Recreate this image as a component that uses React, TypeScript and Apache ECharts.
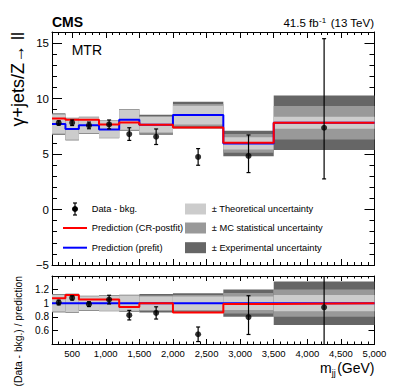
import React, { useEffect, useRef } from "react";
import * as echarts from "echarts";

// ---- data ----
const binEdges = [200, 400, 600, 900, 1200, 1500, 2000, 2750, 3500, 5000];
const dataValues = [7.8, 7.82, 7.58, 7.67, 6.8, 6.56, 4.74, 4.83, 7.37];
const dataLow = [7.6, 7.57, 7.28, 7.27, 6.23, 5.86, 3.99, 3.33, 2.76];
const dataHigh = [8.0, 8.07, 7.88, 8.07, 7.37, 7.26, 5.49, 6.72, 15.4];
const postfitPrediction = [8.21, 8.09, 8.09, 7.67, 7.85, 7.64, 7.4, 6.02, 7.82];
const prefitPrediction = [7.7, 7.25, 7.6, 7.22, 8.09, 7.64, 8.51, 5.96, 7.82];
const theoUnc = [0.85, 0.95, 0.7, 0.75, 0.9, 0.7, 0.85, 0.55, 0.55];
const statUnc = [0.92, 0.98, 0.73, 0.77, 0.95, 0.8, 1.0, 0.85, 1.5];
const expUnc = [0.97, 1.02, 0.76, 0.8, 0.98, 0.9, 1.2, 1.15, 2.45];

const ratioValues = [1.01, 1.077, 0.986, 1.053, 0.824, 0.857, 0.543, 0.796, 0.94];
const ratioLow = [0.975, 1.047, 0.951, 0.989, 0.754, 0.767, 0.436, 0.54, 0.35];
const ratioHigh = [1.045, 1.107, 1.021, 1.117, 0.894, 0.947, 0.65, 1.11, 1.97];
const ratioPostfit = [1.071, 1.12, 1.053, 1.053, 0.943, 1.0, 0.863, 0.99, 1.0];
const ratioPrefit = [1, 1, 1, 1, 1, 1, 1, 1, 1];
const ratioTheoUnc = [0.12, 0.13, 0.1, 0.11, 0.11, 0.1, 0.1, 0.1, 0.12];
const ratioStatUnc = [0.13, 0.135, 0.105, 0.115, 0.12, 0.115, 0.12, 0.15, 0.2];
const ratioExpUnc = [0.135, 0.14, 0.11, 0.12, 0.125, 0.135, 0.145, 0.2, 0.32];

const xTickLabels = [500, 1000, 1500, 2000, 2500, 3000, 3500, 4000, 4500, 5000];
const mainYTickLabels = [-5, 0, 5, 10, 15];
const ratioYTickLabels = [0.6, 0.8, 1, 1.2];

const FONT = "Liberation Sans";
const LIGHT = "#cccccc";
const MEDIUM = "#999999";
const DARK = "#666666";
const RED = "#ff0000";
const BLUE = "#0000ff";

const X_MIN = 200;
const X_MAX = 5000;
const MAIN_Y = [-5, 16];
const RATIO_Y = [0.4, 1.4];

const centers = binEdges.slice(0, -1).map((e, i) => (e + binEdges[i + 1]) / 2);
const stepData = (vals: number[]) =>
  binEdges.map((e, i) => [e, vals[Math.min(i, vals.length - 1)]]);
const bandData = (center: number[], a: number[], b: number[], c: number[]) =>
  binEdges.slice(0, -1).map((e, i) => [e, binEdges[i + 1], center[i], a[i], b[i], c[i]]);

const bandRender = (params: any, api: any) => {
  const x0 = api.value(0);
  const x1 = api.value(1);
  const c = api.value(2);
  const rect = (h: number, color: string) => {
    const p0 = api.coord([x0, c + h]);
    const p1 = api.coord([x1, c - h]);
    return {
      type: "rect",
      shape: { x: p0[0], y: p0[1], width: p1[0] - p0[0], height: p1[1] - p0[1] },
      style: { fill: color },
    };
  };
  return {
    type: "group",
    children: [rect(api.value(5), DARK), rect(api.value(4), MEDIUM), rect(api.value(3), LIGHT)],
  };
};

const errorRender = (yMin: number, yMax: number) => (params: any, api: any) => {
  const x = api.value(0);
  const loRaw = api.value(1);
  const hiRaw = api.value(2);
  const p0 = api.coord([x, Math.max(loRaw, yMin)]);
  const p1 = api.coord([x, Math.min(hiRaw, yMax)]);
  const children: any[] = [
    { type: "line", shape: { x1: p0[0], y1: p0[1], x2: p1[0], y2: p1[1] }, style: { stroke: "#000", lineWidth: 1.2 } },
  ];
  if (loRaw >= yMin)
    children.push({ type: "line", shape: { x1: p0[0] - 2, y1: p0[1], x2: p0[0] + 2, y2: p0[1] }, style: { stroke: "#000", lineWidth: 1.2 } });
  if (hiRaw <= yMax)
    children.push({ type: "line", shape: { x1: p1[0] - 2, y1: p1[1], x2: p1[0] + 2, y2: p1[1] }, style: { stroke: "#000", lineWidth: 1.2 } });
  return { type: "group", children };
};

const axisLineStyle = { color: "#000", width: 1 };

function xAxis(grid: number, pos: string, major: boolean, len: number, labels: boolean) {
  return {
    type: "value",
    gridIndex: grid,
    position: pos,
    min: X_MIN,
    max: X_MAX,
    ...(major ? {} : { interval: 100 }),
    splitLine: { show: false },
    axisLine: { show: major, onZero: false, lineStyle: axisLineStyle },
    axisTick: major
      ? { show: true, inside: true, length: len, customValues: xTickLabels, lineStyle: axisLineStyle }
      : { show: true, inside: true, length: len, lineStyle: axisLineStyle },
    axisLabel: labels
      ? { show: true, customValues: xTickLabels, fontSize: 9.5, color: "#000", fontFamily: FONT, margin: 4 }
      : { show: false },
  };
}

function yAxis(grid: number, pos: string, range: number[], interval: number, len: number, labels: number[] | null, fontSize: number, showLine: boolean) {
  return {
    type: "value",
    gridIndex: grid,
    position: pos,
    min: range[0],
    max: range[1],
    interval,
    splitLine: { show: false },
    axisLine: { show: showLine, onZero: false, lineStyle: axisLineStyle },
    axisTick: { show: true, inside: true, length: len, lineStyle: axisLineStyle },
    axisLabel: labels
      ? {
          show: true,
          customValues: labels,
          fontSize,
          color: "#000",
          fontFamily: FONT,
          margin: 3,
          formatter: (v: number) => String(v).replace("-", "\u2212"),
        }
      : { show: false },
  };
}

const txt = (x: number, y: number, text: string, fontSize: number, align: string, extra: any = {}) => ({
  type: "text",
  x,
  y,
  ...extra.el,
  style: {
    text,
    fontSize,
    fontFamily: FONT,
    fontWeight: extra.bold ? "bold" : "normal",
    fill: "#000",
    textAlign: align,
    align,
    textVerticalAlign: "middle",
    verticalAlign: "middle",
  },
});

export default function App() {
  const ref = useRef<HTMLDivElement>(null);
  useEffect(() => {
    if (!ref.current) return;
    const chart = echarts.init(ref.current, null, { renderer: "svg" });
    const legendX = 91.7;
    const legendX2 = 211.7;
    const rows = [209, 228, 247.7];
    const option: any = {
      animation: false,
      backgroundColor: "#fff",
      textStyle: { fontFamily: FONT, color: "#000" },
      grid: [
        { left: 52, top: 32, width: 322.5, height: 233 },
        { left: 52, top: 276, width: 322.5, height: 68 },
      ],
      xAxis: [
        xAxis(0, "bottom", true, 6, false),
        xAxis(0, "bottom", false, 3, false),
        xAxis(0, "top", true, 6, false),
        xAxis(0, "top", false, 3, false),
        xAxis(1, "bottom", true, 5, true),
        xAxis(1, "bottom", false, 2.5, false),
        xAxis(1, "top", true, 5, false),
        xAxis(1, "top", false, 2.5, false),
      ],
      yAxis: [
        yAxis(0, "left", MAIN_Y, 5, 10, mainYTickLabels, 11.5, true),
        yAxis(0, "left", MAIN_Y, 1, 5, null, 0, false),
        yAxis(0, "right", MAIN_Y, 5, 10, null, 0, true),
        yAxis(0, "right", MAIN_Y, 1, 5, null, 0, false),
        yAxis(1, "left", RATIO_Y, 0.2, 6, ratioYTickLabels, 10, true),
        yAxis(1, "right", RATIO_Y, 0.2, 6, null, 0, true),
      ],
      series: [
        {
          type: "custom",
          xAxisIndex: 0,
          yAxisIndex: 0,
          renderItem: bandRender,
          data: bandData(prefitPrediction, theoUnc, statUnc, expUnc),
          z: 1,
          silent: true,
        },
        {
          type: "line",
          xAxisIndex: 0,
          yAxisIndex: 0,
          step: "end",
          symbol: "none",
          data: stepData(prefitPrediction),
          lineStyle: { color: BLUE, width: 2 },
          z: 2,
          silent: true,
        },
        {
          type: "line",
          xAxisIndex: 0,
          yAxisIndex: 0,
          step: "end",
          symbol: "none",
          data: stepData(postfitPrediction),
          lineStyle: { color: RED, width: 2 },
          z: 3,
          silent: true,
        },
        {
          type: "custom",
          xAxisIndex: 0,
          yAxisIndex: 0,
          renderItem: errorRender(MAIN_Y[0], MAIN_Y[1]),
          data: centers.map((c, i) => [c, dataLow[i], dataHigh[i]]),
          z: 4,
          silent: true,
        },
        {
          type: "scatter",
          xAxisIndex: 0,
          yAxisIndex: 0,
          symbol: "circle",
          symbolSize: 6,
          itemStyle: { color: "#000" },
          data: centers.map((c, i) => [c, dataValues[i]]),
          z: 5,
          silent: true,
        },
        {
          type: "custom",
          xAxisIndex: 4,
          yAxisIndex: 4,
          renderItem: bandRender,
          data: bandData(ratioPrefit, ratioTheoUnc, ratioStatUnc, ratioExpUnc),
          z: 1,
          silent: true,
        },
        {
          type: "line",
          xAxisIndex: 4,
          yAxisIndex: 4,
          step: "end",
          symbol: "none",
          data: stepData(ratioPrefit),
          lineStyle: { color: BLUE, width: 2 },
          z: 2,
          silent: true,
        },
        {
          type: "line",
          xAxisIndex: 4,
          yAxisIndex: 4,
          step: "end",
          symbol: "none",
          data: stepData(ratioPostfit),
          lineStyle: { color: RED, width: 2 },
          z: 3,
          silent: true,
        },
        {
          type: "custom",
          xAxisIndex: 4,
          yAxisIndex: 4,
          renderItem: errorRender(RATIO_Y[0], RATIO_Y[1]),
          data: centers.map((c, i) => [c, ratioLow[i], ratioHigh[i]]),
          z: 4,
          silent: true,
        },
        {
          type: "scatter",
          xAxisIndex: 4,
          yAxisIndex: 4,
          symbol: "circle",
          symbolSize: 6,
          itemStyle: { color: "#000" },
          data: centers.map((c, i) => [c, ratioValues[i]]),
          z: 5,
          silent: true,
        },
      ],
      graphic: {
        elements: [
          txt(52, 21.8, "CMS", 14, "left", { bold: true }),
          txt(318.6, 23, "41.5 fb", 11.5, "right"),
          txt(326.1, 20.5, "-1", 8, "right"),
          txt(374, 23, " (13 TeV)", 11.5, "right"),
          txt(71.7, 50.1, "MTR", 14, "left"),
          txt(18, 32, "\u03b3+jets/Z\u2192 ll", 18, "right", { el: { rotation: Math.PI / 2 } }),
          txt(18, 276, "(Data - bkg.) / prediction", 10.3, "right", { el: { rotation: Math.PI / 2 } }),
          txt(320, 367.8, "m", 14, "left"),
          txt(331.7, 372.5, "jj", 9, "left"),
          txt(374.5, 367.8, "(GeV)", 14, "right"),
          // legend
          { type: "line", shape: { x1: 75, y1: rows[0] - 6, x2: 75, y2: rows[0] + 6 }, style: { stroke: "#000", lineWidth: 1.2 } },
          { type: "line", shape: { x1: 73, y1: rows[0] - 6, x2: 77, y2: rows[0] - 6 }, style: { stroke: "#000", lineWidth: 1.2 } },
          { type: "line", shape: { x1: 73, y1: rows[0] + 6, x2: 77, y2: rows[0] + 6 }, style: { stroke: "#000", lineWidth: 1.2 } },
          { type: "circle", shape: { cx: 75, cy: rows[0], r: 3 }, style: { fill: "#000" } },
          txt(legendX, rows[0], "Data - bkg.", 9.3, "left"),
          { type: "line", shape: { x1: 63, y1: rows[1], x2: 87, y2: rows[1] }, style: { stroke: RED, lineWidth: 2 } },
          txt(legendX, rows[1], "Prediction (CR-postfit)", 9.3, "left"),
          { type: "line", shape: { x1: 63, y1: rows[2], x2: 87, y2: rows[2] }, style: { stroke: BLUE, lineWidth: 2 } },
          txt(legendX, rows[2], "Prediction (prefit)", 9.3, "left"),
          { type: "rect", shape: { x: 185, y: rows[0] - 5.5, width: 21, height: 11 }, style: { fill: LIGHT } },
          txt(legendX2, rows[0], "\u00b1 Theoretical uncertainty", 9.3, "left"),
          { type: "rect", shape: { x: 185, y: rows[1] - 5.5, width: 21, height: 11 }, style: { fill: MEDIUM } },
          txt(legendX2, rows[1], "\u00b1 MC statistical uncertainty", 9.3, "left"),
          { type: "rect", shape: { x: 185, y: rows[2] - 5.5, width: 21, height: 11 }, style: { fill: DARK } },
          txt(legendX2, rows[2], "\u00b1 Experimental uncertainty", 9.3, "left"),
        ],
      },
    };
    chart.setOption(option);
    return () => chart.dispose();
  }, []);
  return (
    <div
      ref={ref}
      style={{ position: "absolute", left: 0, top: 0, width: 399, height: 387, background: "#fff" }}
    />
  );
}
